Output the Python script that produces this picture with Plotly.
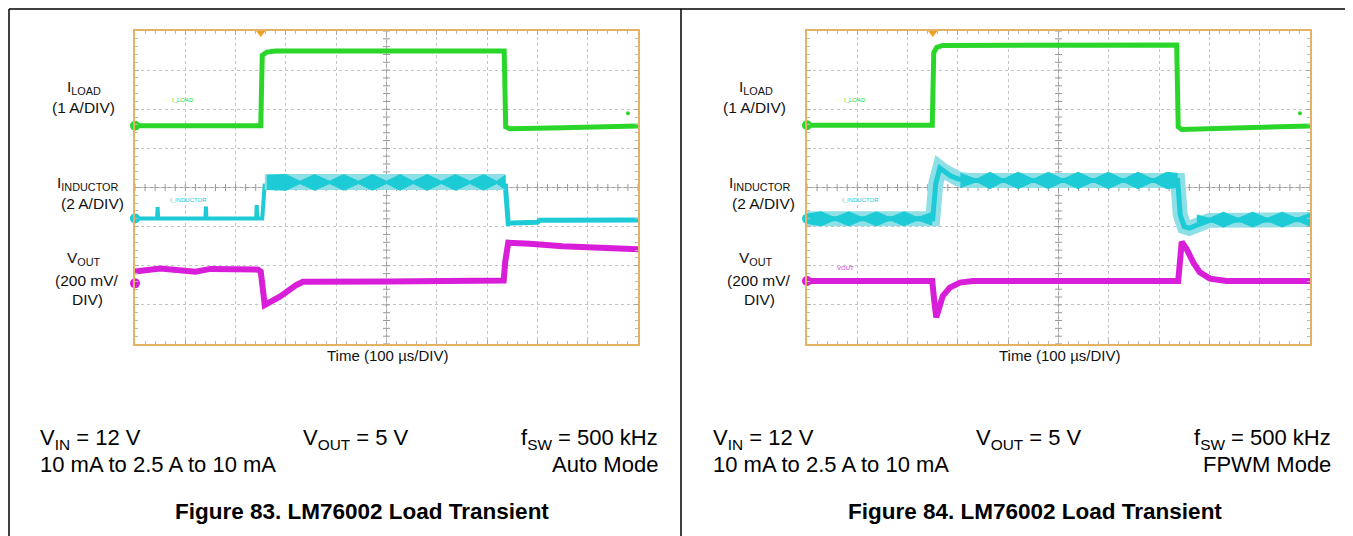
import plotly.graph_objects as go
import numpy as np

# The page body has an 8 px margin, so the figure is drawn 8 px smaller and
# all reference pixel positions are converted with that offset.
PAGE_W, PAGE_H = 1353, 536
OFF = 8
W, H = PAGE_W - OFF, PAGE_H - OFF

# ---------------- data (oscilloscope divisions: time 0..10 div, vertical 0..8 div) -------------
# Figure 83 - Auto mode
auto_iload_t = [0, 2.50, 2.53, 2.62, 2.80, 7.34, 7.37, 7.45, 8.50, 10]
auto_iload_v = [5.58, 5.58, 7.38, 7.46, 7.49, 7.49, 5.55, 5.50, 5.53, 5.57]

auto_iind_pre_t = [0, 0.44, 0.45, 0.46, 1.40, 1.41, 1.42, 2.41, 2.42, 2.43, 2.53, 2.58]
auto_iind_pre_v = [3.21, 3.21, 3.50, 3.21, 3.21, 3.51, 3.21, 3.21, 3.55, 3.21, 3.21, 4.10]
auto_iind_band_t = [2.58, 7.36]
auto_iind_band_v = [4.14, 4.14]
auto_iind_post_t = [7.36, 7.42, 7.50, 8.00, 8.05, 10]
auto_iind_post_v = [4.10, 3.08, 3.09, 3.11, 3.16, 3.17]
auto_diam_t = [2.62, 3.00, 3.28, 3.57, 3.87, 4.15, 4.44, 4.72, 5.00, 5.27, 5.53, 5.81, 6.09, 6.37,
               6.66, 6.93, 7.19, 7.36]
auto_diam_h = [0.18, 0.20, 0.03, 0.20, 0.03, 0.20, 0.03, 0.20, 0.03, 0.20, 0.03, 0.20, 0.03, 0.20,
               0.03, 0.20, 0.03, 0.18]
auto_diam_c = 4.13

auto_vout_t = [0, 0.50, 1.20, 1.50, 2.45, 2.50, 2.58, 2.88, 3.21, 3.34, 5.00, 7.33, 7.36, 7.42,
               7.85, 8.50, 10]
auto_vout_v = [1.85, 1.93, 1.85, 1.92, 1.90, 1.85, 1.00, 1.21, 1.51, 1.59, 1.60, 1.62, 2.10, 2.59,
               2.56, 2.50, 2.42]

# Figure 84 - FPWM mode
fpwm_iload_t = [0, 2.49, 2.52, 2.58, 2.70, 7.35, 7.38, 7.45, 8.50, 10]
fpwm_iload_v = [5.59, 5.59, 7.45, 7.58, 7.63, 7.64, 5.55, 5.48, 5.52, 5.57]

fpwm_iind_t = [0, 2.50, 2.56, 2.64, 2.72, 2.85, 3.00, 3.20, 7.37, 7.42, 7.50, 7.60, 7.80, 8.00, 10]
fpwm_iind_v = [3.20, 3.20, 4.10, 4.50, 4.42, 4.30, 4.22, 4.18, 4.18, 3.30, 3.00, 2.96, 3.06, 3.16, 3.18]
fpwm_diam1_t = [0.02, 0.28, 0.55, 0.83, 1.10, 1.38, 1.65, 1.93, 2.20, 2.48]
fpwm_diam1_h = [0.12, 0.18, 0.03, 0.18, 0.03, 0.18, 0.03, 0.18, 0.03, 0.16]
fpwm_diam1_c = 3.20
fpwm_diam2_t = [3.05, 3.37, 3.64, 3.90, 4.20, 4.50, 4.80, 5.09, 5.39, 5.69, 5.99, 6.29, 6.58, 6.88,
                7.15, 7.36]
fpwm_diam2_h = [0.18, 0.03, 0.21, 0.03, 0.21, 0.03, 0.21, 0.03, 0.21, 0.03, 0.21, 0.03, 0.21, 0.03,
                0.21, 0.18]
fpwm_diam2_c = 4.18
fpwm_diam3_t = [7.75, 8.00, 8.28, 8.57, 8.86, 9.15, 9.45, 9.74, 9.99]
fpwm_diam3_h = [0.12, 0.03, 0.19, 0.03, 0.19, 0.03, 0.19, 0.03, 0.16]
fpwm_diam3_c = 3.18

fpwm_vout_t = [0, 2.49, 2.53, 2.57, 2.70, 2.84, 3.04, 3.30, 7.38, 7.42, 7.45, 7.55, 7.68, 7.81, 8.01,
               8.34, 10]
fpwm_vout_v = [1.61, 1.61, 1.10, 0.68, 1.23, 1.44, 1.57, 1.61, 1.61, 2.40, 2.61, 2.42, 2.08, 1.83,
               1.67, 1.61, 1.61]

# ground-level channel markers (div)
auto_gnd = [5.58, 3.21, 1.55]
fpwm_gnd = [5.59, 3.20, 1.61]

# text
label_rows = [("I<sub>LOAD</sub>", 88), ("(1 A/DIV)", 107), ("I<sub>INDUCTOR</sub>", 183),
              ("(2 A/DIV)", 203), ("V<sub>OUT</sub>", 259), ("(200 mV/", 280), ("DIV)", 299)]
label_cx = [84, 83, 88, 92, 84, 87, 87]
modes = ["Auto Mode", "FPWM Mode"]
titles = ["Figure 83. LM76002 Load Transient", "Figure 84. LM76002 Load Transient"]

# ---------------- styling ----------------
GREEN = "#2bd62b"
CYAN = "#1ccbd6"
CYAN_LIGHT = "#8fe0e6"
MAGENTA = "#d81ed8"
BORDER = "#e3b262"
FONT = "Arial, Liberation Sans, sans-serif"

fig = go.Figure()


def px(x):
    return (x - OFF) / W


def py(y):
    return 1 - (y - OFF) / H


def diamond(t, h, c):
    up = [c + v for v in h]
    lo = [c - v for v in h]
    return t + t[::-1], up + lo[::-1]


panels = [
    dict(xa="x", ya="y", dx=0, iload=(auto_iload_t, auto_iload_v), vout=(auto_vout_t, auto_vout_v),
         gnd=auto_gnd),
    dict(xa="x2", ya="y2", dx=672, iload=(fpwm_iload_t, fpwm_iload_v), vout=(fpwm_vout_t, fpwm_vout_v),
         gnd=fpwm_gnd),
]

for i, p in enumerate(panels):
    xa, ya = p["xa"], p["ya"]
    # center-line ticks
    xt = np.round(np.arange(0, 10.001, 0.2), 3)
    yt = np.round(np.arange(0, 8.001, 0.2), 3)
    fig.add_trace(go.Scatter(x=xt, y=[4] * len(xt), mode="markers", xaxis=xa, yaxis=ya,
                             marker=dict(symbol="line-ns", size=5, line=dict(color="#9a9a9a", width=1)),
                             hoverinfo="skip", showlegend=False))
    fig.add_trace(go.Scatter(x=[5] * len(yt), y=yt, mode="markers", xaxis=xa, yaxis=ya,
                             marker=dict(symbol="line-ew", size=5, line=dict(color="#9a9a9a", width=1)),
                             hoverinfo="skip", showlegend=False))

    # I_LOAD
    fig.add_trace(go.Scatter(x=p["iload"][0], y=p["iload"][1], mode="lines", xaxis=xa, yaxis=ya,
                             line=dict(color=GREEN, width=5), hoverinfo="skip", showlegend=False))

    # I_INDUCTOR
    if i == 0:
        fig.add_trace(go.Scatter(x=auto_iind_pre_t, y=auto_iind_pre_v, mode="lines", xaxis=xa, yaxis=ya,
                                 line=dict(color=CYAN, width=4), hoverinfo="skip", showlegend=False))
        fig.add_trace(go.Scatter(x=auto_iind_post_t, y=auto_iind_post_v, mode="lines", xaxis=xa, yaxis=ya,
                                 line=dict(color=CYAN, width=5), hoverinfo="skip", showlegend=False))
        fig.add_trace(go.Scatter(x=auto_iind_band_t, y=auto_iind_band_v, mode="lines", xaxis=xa, yaxis=ya,
                                 line=dict(color=CYAN_LIGHT, width=16), hoverinfo="skip", showlegend=False))
        dx_, dy_ = diamond(auto_diam_t, auto_diam_h, auto_diam_c)
        fig.add_trace(go.Scatter(x=dx_, y=dy_, mode="lines", fill="toself", fillcolor=CYAN,
                                 line=dict(color=CYAN, width=1), xaxis=xa, yaxis=ya,
                                 hoverinfo="skip", showlegend=False))
    else:
        fig.add_trace(go.Scatter(x=fpwm_iind_t, y=fpwm_iind_v, mode="lines", xaxis=xa, yaxis=ya,
                                 line=dict(color=CYAN_LIGHT, width=15), hoverinfo="skip", showlegend=False))
        fig.add_trace(go.Scatter(x=fpwm_iind_t, y=fpwm_iind_v, mode="lines", xaxis=xa, yaxis=ya,
                                 line=dict(color=CYAN, width=5), hoverinfo="skip", showlegend=False))
        for (t, h, c) in [(fpwm_diam1_t, fpwm_diam1_h, fpwm_diam1_c),
                          (fpwm_diam2_t, fpwm_diam2_h, fpwm_diam2_c),
                          (fpwm_diam3_t, fpwm_diam3_h, fpwm_diam3_c)]:
            dx_, dy_ = diamond(t, h, c)
            fig.add_trace(go.Scatter(x=dx_, y=dy_, mode="lines", fill="toself", fillcolor=CYAN,
                                     line=dict(color=CYAN, width=1), xaxis=xa, yaxis=ya,
                                     hoverinfo="skip", showlegend=False))

    # V_OUT
    fig.add_trace(go.Scatter(x=p["vout"][0], y=p["vout"][1], mode="lines", xaxis=xa, yaxis=ya,
                             line=dict(color=MAGENTA, width=6), hoverinfo="skip", showlegend=False))

    # ground markers at left edge
    fig.add_trace(go.Scatter(x=[0, 0, 0], y=p["gnd"], mode="markers", xaxis=xa, yaxis=ya,
                             marker=dict(size=10, color=[GREEN, CYAN, MAGENTA],
                                         line=dict(color="#ffffff", width=0)),
                             cliponaxis=False, hoverinfo="skip", showlegend=False))
    # small right-side marker on I_LOAD
    fig.add_trace(go.Scatter(x=[9.8], y=[5.9], mode="markers", xaxis=xa, yaxis=ya,
                             marker=dict(size=4, color=GREEN), hoverinfo="skip", showlegend=False))
    # trigger marker
    fig.add_trace(go.Scatter(x=[2.5], y=[7.95], mode="markers", xaxis=xa, yaxis=ya,
                             marker=dict(symbol="triangle-down", size=8, color="#f0a020"),
                             cliponaxis=False, hoverinfo="skip", showlegend=False))

    # in-screen channel names
    small = [("I_LOAD", 0.96, 6.23, GREEN), ("I_INDUCTOR", 1.06, 3.68, CYAN)]
    if i == 1:
        small.append(("VOUT", 0.77, 1.95, MAGENTA))
    for txt, tx, ty, col in small:
        fig.add_annotation(x=tx, y=ty, xref=xa, yref=ya, text=txt, showarrow=False,
                           font=dict(size=6, color=col, family=FONT), xanchor="center", yanchor="middle")

    # left-side labels
    off = p["dx"]
    for (txt, yy), cx in zip(label_rows, label_cx):
        fig.add_annotation(x=px(cx + off), y=py(yy), xref="paper", yref="paper", text=txt,
                           showarrow=False, font=dict(size=15.5, color="#111111", family=FONT),
                           xanchor="center", yanchor="middle")
    fig.add_annotation(x=px(387 + off), y=py(355), xref="paper", yref="paper", text="Time (100 µs/DIV)",
                       showarrow=False, font=dict(size=15, color="#111111", family=FONT),
                       xanchor="center", yanchor="middle")

    # conditions text
    toff = off + 1 if i == 1 else 0
    f22 = dict(size=22, color="#000000", family=FONT)
    fig.add_annotation(x=px(38 + toff), y=py(439), xref="paper", yref="paper", text="V<sub>IN</sub> = 12 V",
                       showarrow=False, font=f22, xanchor="left", yanchor="middle")
    fig.add_annotation(x=px(301 + toff), y=py(439), xref="paper", yref="paper", text="V<sub>OUT</sub> = 5 V",
                       showarrow=False, font=f22, xanchor="left", yanchor="middle")
    fig.add_annotation(x=px(660 + toff), y=py(439), xref="paper", yref="paper", text="f<sub>SW</sub> = 500 kHz",
                       showarrow=False, font=f22, xanchor="right", yanchor="middle")
    fig.add_annotation(x=px(38 + toff), y=py(464), xref="paper", yref="paper", text="10 mA to 2.5 A to 10 mA",
                       showarrow=False, font=f22, xanchor="left", yanchor="middle")
    fig.add_annotation(x=px(660 + toff), y=py(464), xref="paper", yref="paper", text=modes[i],
                       showarrow=False, font=f22, xanchor="right", yanchor="middle")
    fig.add_annotation(x=px(362 + toff), y=py(511), xref="paper", yref="paper", text="<b>" + titles[i] + "</b>",
                       showarrow=False, font=dict(size=22.5, color="#000000", family=FONT),
                       xanchor="center", yanchor="middle")


# ---------------- axes ----------------
def xaxis_cfg(x0, x1, anchor):
    return dict(domain=[px(x0), px(x1)], range=[0, 10], anchor=anchor, dtick=1, showgrid=True,
                gridcolor="#c4c4c4", griddash="dot", gridwidth=1, zeroline=False, showticklabels=False,
                showline=True, linecolor=BORDER, linewidth=1.5, mirror="allticks", ticks="inside",
                ticklen=4, tickcolor="#a8a8a8",
                minor=dict(dtick=0.2, ticks="inside", ticklen=3, tickcolor="#b8b8b8", showgrid=False),
                fixedrange=True)


def yaxis_cfg(anchor):
    return dict(domain=[py(344), py(31)], range=[0, 8], anchor=anchor, dtick=1, showgrid=True,
                gridcolor="#c4c4c4", griddash="dot", gridwidth=1, zeroline=False, showticklabels=False,
                showline=True, linecolor=BORDER, linewidth=1.5, mirror="allticks", ticks="inside",
                ticklen=4, tickcolor="#a8a8a8",
                minor=dict(dtick=0.2, ticks="inside", ticklen=3, tickcolor="#b8b8b8", showgrid=False),
                fixedrange=True)


fig.update_layout(
    width=W, height=H, margin=dict(l=0, r=0, t=0, b=0),
    paper_bgcolor="white", plot_bgcolor="white", showlegend=False,
    xaxis=xaxis_cfg(135, 638, "y"), yaxis=yaxis_cfg("x"),
    xaxis2=xaxis_cfg(807, 1310, "y2"), yaxis2=yaxis_cfg("x2"),
)

# center solid lines of the graticule
for xa, ya in [("x", "y"), ("x2", "y2")]:
    fig.add_shape(type="line", xref=xa, yref=ya, x0=5, x1=5, y0=0, y1=8, line=dict(color="#a0a0a0", width=1),
                  layer="below")
    fig.add_shape(type="line", xref=xa, yref=ya, x0=0, x1=10, y0=4, y1=4, line=dict(color="#a0a0a0", width=1),
                  layer="below")

# table frame lines (top line sits at the very top edge of the drawable area)
TOP = 9
fig.add_shape(type="line", xref="paper", yref="paper", x0=px(9), x1=1, y0=py(TOP), y1=py(TOP),
              line=dict(color="black", width=1.5))
fig.add_shape(type="line", xref="paper", yref="paper", x0=px(9), x1=px(9), y0=py(TOP), y1=0,
              line=dict(color="black", width=1.5))
fig.add_shape(type="line", xref="paper", yref="paper", x0=px(681), x1=px(681), y0=py(TOP), y1=0,
              line=dict(color="black", width=1.5))

fig.write_html("out.html")
